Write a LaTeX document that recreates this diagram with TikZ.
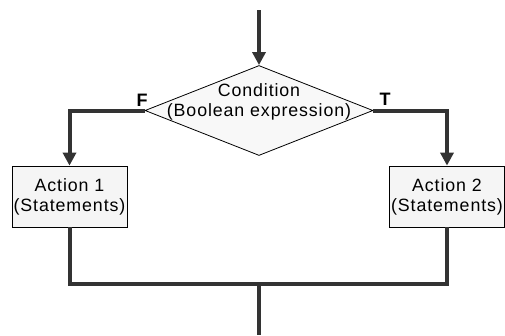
\documentclass[tikz,border=0pt]{standalone}
\usepackage{fontspec}
\setmainfont{Liberation Sans}[LetterSpace=5]
\newfontfamily\flagfont{Liberation Sans Bold}
\usetikzlibrary{shapes.geometric,arrows.meta,shadows}
\definecolor{connc}{HTML}{333333}
\definecolor{boxfill}{HTML}{F5F5F5}
\definecolor{diafill}{HTML}{F8F8F8}
\begin{document}
\begin{tikzpicture}[x=1pt,y=-1pt,
  conn/.style={draw=connc,line width=4pt},
  arr/.style={conn,-{Triangle[length=13pt,width=13pt]}},
  decision/.style={diamond,draw=black,line width=0.8pt,fill=diafill,inner sep=0pt,
    minimum width=228pt,minimum height=90pt},
  actionbox/.style={rectangle,draw=black,line width=0.8pt,fill=boxfill,
    minimum width=115pt,minimum height=61pt,inner sep=0pt,align=center,
    font=\fontsize{17.8}{20}\selectfont,
    drop shadow={shadow xshift=1.2pt,shadow yshift=-1.2pt,fill=black,opacity=1}},
  txt/.style={align=center,inner sep=0pt,font=\fontsize{17.8}{20}\selectfont},
  flag/.style={inner sep=0pt,font=\flagfont\fontsize{18}{18}\selectfont}]
\useasboundingbox (0,0) rectangle (505,335);
\coordinate (top) at (259,10);
\node[decision] (cond) at (259,110.5) {};
\node[txt] (condtxt) at (259,102) {Condition\\(Boolean expression)};
\node[actionbox] (act1) at (69.5,196.5) {Action 1\\(Statements)};
\node[actionbox] (act2) at (447,196.5) {Action 2\\(Statements)};
\coordinate (join) at (259,283.5);
\coordinate (out) at (259,335);
\node[flag] (F) at (142,100.5) {F};
\node[flag] (T) at (385,99) {T};
\draw[arr] (top) -- (cond.north);
\draw[arr] (cond.west) -| (act1.north);
\draw[arr] (cond.east) -| (act2.north);
\draw[conn] (act1.south) |- (join) -| (act2.south);
\draw[conn] (join) -- (out);
\end{tikzpicture}
\end{document}
